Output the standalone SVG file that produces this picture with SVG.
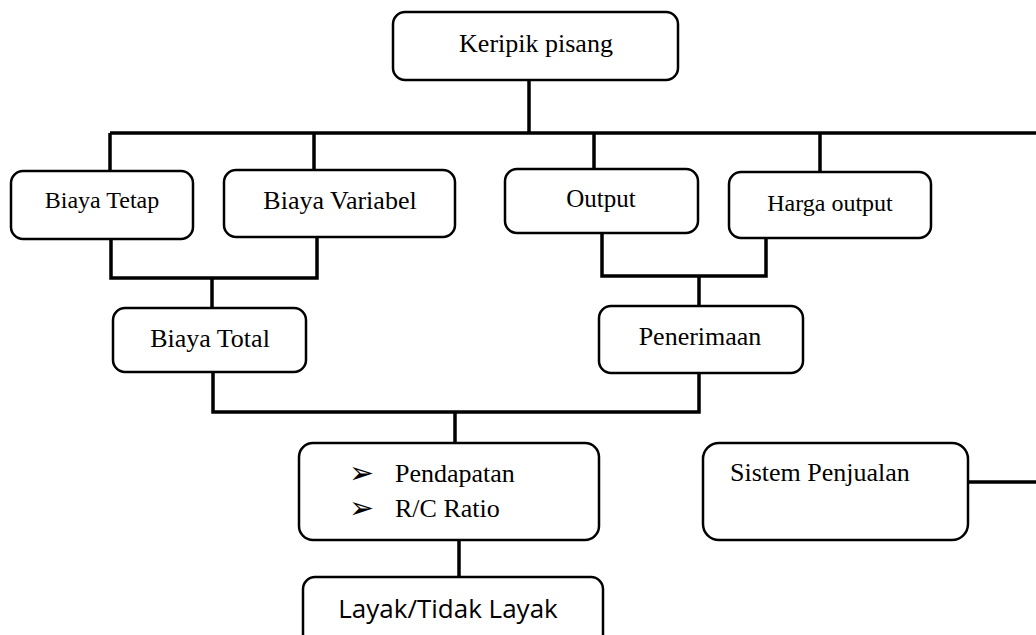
<svg xmlns="http://www.w3.org/2000/svg" width="1036" height="635" viewBox="0 0 1036 635">
<style>
.box{fill:#fff;stroke:#000;stroke-width:2.5}
.t{font-family:"Liberation Serif","Times New Roman",serif;font-size:26px;fill:#000}
.m{text-anchor:middle}
.c{fill:none;stroke:#000;stroke-width:3.5}
.s{font-family:"Open Sans","Noto Sans",sans-serif;font-size:26px;fill:#000}
.b{font-family:"DejaVu Sans",sans-serif;font-size:30px;fill:#000}
</style>
<rect width="1036" height="635" fill="#fff"/>
<g id="connectors">
<path class="c" d="M529,80 V133"/>
<path class="c" d="M110,133 H1036"/>
<path class="c" d="M110,133 V171 M314,133 V170 M594,133 V169 M820,133 V172"/>
<path class="c" d="M111,239 V278 H317 V237"/>
<path class="c" d="M212,278 V308"/>
<path class="c" d="M602,233 V276 H766 V238"/>
<path class="c" d="M699,276 V306"/>
<path class="c" d="M213,372 V412 H699 V373"/>
<path class="c" d="M455,412 V443"/>
<path class="c" d="M459,540 V577"/>
<path class="c" d="M968,482 H1036"/>
</g>
<g id="keripik-pisang">
<rect class="box" x="393" y="12" width="285" height="68" rx="12"/>
<text class="t m" x="536" y="52">Keripik pisang</text>
</g>
<g id="biaya-tetap">
<rect class="box" x="11" y="171" width="182" height="68" rx="12"/>
<text class="t m" x="102" y="208" style="font-size:24px">Biaya Tetap</text>
</g>
<g id="biaya-variabel">
<rect class="box" x="224" y="170" width="231" height="67" rx="12"/>
<text class="t m" x="340" y="209">Biaya Variabel</text>
</g>
<g id="output">
<rect class="box" x="505" y="169" width="193" height="64" rx="12"/>
<text class="t m" x="601" y="207" style="font-size:25px">Output</text>
</g>
<g id="harga-output">
<rect class="box" x="729" y="172" width="202" height="66" rx="12"/>
<text class="t m" x="830" y="211" style="font-size:24px">Harga output</text>
</g>
<g id="biaya-total">
<rect class="box" x="113" y="308" width="193" height="64" rx="12"/>
<text class="t m" x="210" y="347">Biaya Total</text>
</g>
<g id="penerimaan">
<rect class="box" x="599" y="306" width="204" height="67" rx="12"/>
<text class="t m" x="700" y="345">Penerimaan</text>
</g>
<g id="pendapatan-rc">
<rect class="box" x="299" y="443" width="300" height="97" rx="14"/>
<text class="b" x="349" y="483">➢</text>
<text class="t" x="395" y="482">Pendapatan</text>
<text class="b" x="349" y="518">➢</text>
<text class="t" x="395" y="517">R/C Ratio</text>
</g>
<g id="sistem-penjualan">
<rect class="box" x="703" y="443" width="265" height="97" rx="16"/>
<text class="t" x="730" y="481">Sistem Penjualan</text>
</g>
<g id="layak">
<rect class="box" x="303" y="577" width="300" height="75" rx="12"/>
<text class="s m" x="448" y="618">Layak/Tidak Layak</text>
</g>
</svg>
